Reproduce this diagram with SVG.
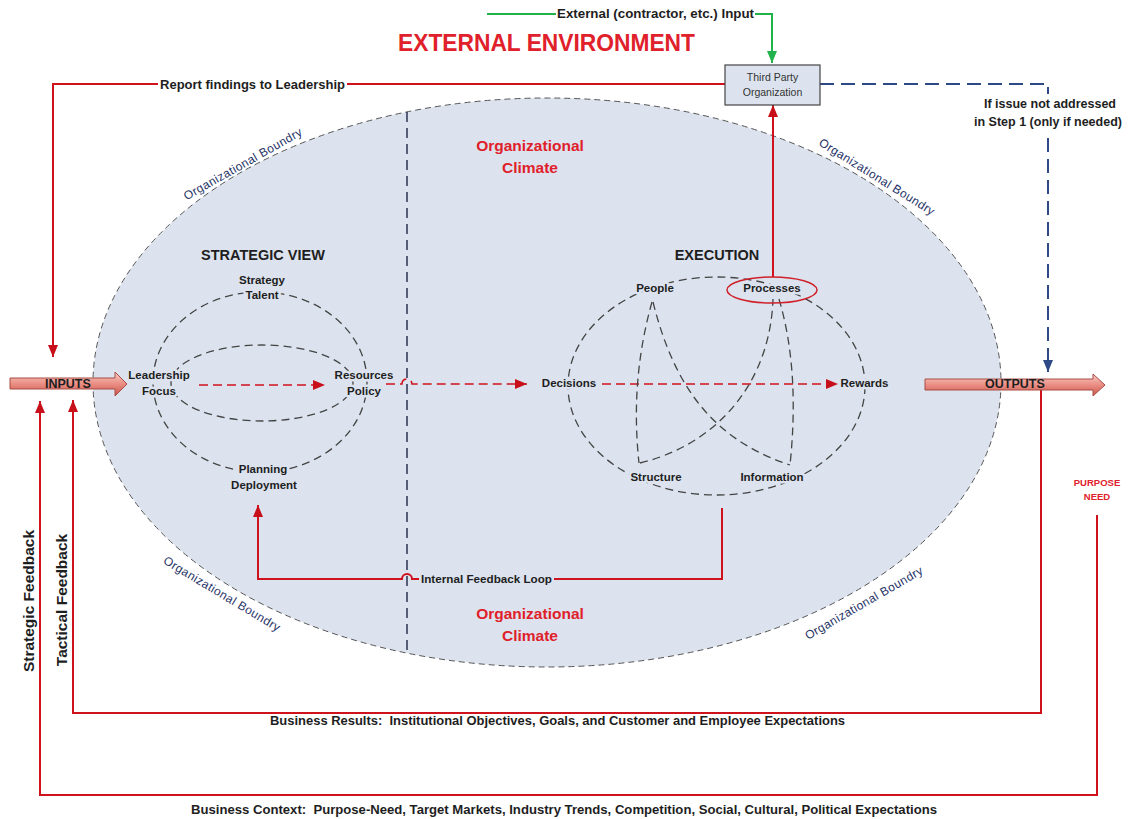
<svg xmlns="http://www.w3.org/2000/svg" width="1129" height="819" viewBox="0 0 1129 819">
<defs>
<style>
text{font-family:"Liberation Sans",Arial,sans-serif;}
.b{font-weight:bold;fill:#1e1e1e;}
.c{text-anchor:middle;dominant-baseline:central;}
.s{dominant-baseline:central;}
.lbl{font-weight:bold;font-size:11.5px;fill:#1e1e1e;text-anchor:middle;dominant-baseline:central;paint-order:stroke;stroke:#dce3ee;stroke-width:5px;stroke-linejoin:round;}
.red{font-weight:bold;fill:#e0202a;}
.bnd{font-size:12px;fill:#1f3366;letter-spacing:0.4px;text-anchor:middle;dominant-baseline:central;}
.gd{fill:none;stroke:#444;stroke-width:1.3;stroke-dasharray:8 5;}
.rl{fill:none;stroke:#d0121c;stroke-width:2;}
.rd{fill:none;stroke:#d0121c;stroke-width:1.6;stroke-dasharray:9 5;}
.bl{fill:none;stroke:#2e4a86;stroke-width:2;stroke-dasharray:14 7;}
.gr{fill:none;stroke:#22b24c;stroke-width:2;}
.fat{fill:url(#fatg);stroke:#a84c44;stroke-width:1;}
</style>
<linearGradient id="fatg" x1="0" y1="0" x2="0" y2="1">
<stop offset="0" stop-color="#f8cdc6"/>
<stop offset="0.5" stop-color="#ea8d83"/>
<stop offset="1" stop-color="#c9564c"/>
</linearGradient>
<marker id="ar" markerWidth="12" markerHeight="10" refX="12" refY="5" orient="auto" markerUnits="userSpaceOnUse"><path d="M0,0 L12,5 L0,10 Z" fill="#c8101a"/></marker>
<marker id="ab" markerWidth="12" markerHeight="10" refX="12" refY="5" orient="auto" markerUnits="userSpaceOnUse"><path d="M0,0 L12,5 L0,10 Z" fill="#2e4a86"/></marker>
<marker id="ag" markerWidth="12" markerHeight="10" refX="12" refY="5" orient="auto" markerUnits="userSpaceOnUse"><path d="M0,0 L12,5 L0,10 Z" fill="#22b24c"/></marker>
</defs>
<rect x="0" y="0" width="1129" height="819" fill="#ffffff"/>

<g id="organization">
<ellipse cx="547" cy="382.5" rx="454" ry="284.5" fill="#dce3ee" stroke="#555" stroke-width="1" stroke-dasharray="6 4"/>
<line x1="407" y1="112" x2="407" y2="653" stroke="#2a3550" stroke-width="1.5" stroke-dasharray="10 6"/>
<text class="bnd" transform="translate(243,164) rotate(-29.5)">Organizational Boundry</text>
<text class="bnd" transform="translate(877,177) rotate(32)">Organizational Boundry</text>
<text class="bnd" transform="translate(222,594) rotate(31)">Organizational Boundry</text>
<text class="bnd" transform="translate(864,603) rotate(-30)">Organizational Boundry</text>
</g>

<g id="climate-top">
<text class="red c" x="530" y="145" font-size="15.5">Organizational</text>
<text class="red c" x="530" y="167" font-size="15.5">Climate</text>
</g>
<g id="climate-bottom">
<text class="red c" x="530" y="613" font-size="15.5">Organizational</text>
<text class="red c" x="530" y="635" font-size="15.5">Climate</text>
</g>

<g id="title">
<text class="red s" x="398" y="43" font-size="23" textLength="297" lengthAdjust="spacingAndGlyphs">EXTERNAL ENVIRONMENT</text>
</g>

<g id="connectors">
<path class="gr" d="M487,14 H556"/>
<path class="gr" d="M755,14 H772 V63" marker-end="url(#ag)"/>
<path class="rl" d="M725,84 H347"/>
<path class="rl" d="M158,84 H53 V357" marker-end="url(#ar)"/>
<path class="rl" d="M773,277 V105" stroke-width="1.5" marker-end="url(#ar)"/>
<path class="bl" d="M820,84 H1048 V94"/>
<path class="bl" d="M1048,138 V372" marker-end="url(#ab)"/>
<path class="rd" d="M199,385 H325" marker-end="url(#ar)"/>
<path class="rd" d="M386,384 H402 A5,5 0 0 1 412,384 H527" marker-end="url(#ar)"/>
<path class="rd" d="M602,384 H838" marker-end="url(#ar)"/>
<path class="rl" d="M722,508 V579 H554"/>
<path class="rl" d="M419,579 H412 A5,5 0 0 0 402,579 H258 V505" marker-end="url(#ar)"/>
<path class="rl" d="M1041,389 V713 H73 V400" marker-end="url(#ar)"/>
<path class="rl" d="M1097,515 V795 H40 V401" marker-end="url(#ar)"/>
</g>

<g id="external-input">
<text class="b s" x="557" y="14" font-size="12" textLength="197" lengthAdjust="spacingAndGlyphs">External (contractor, etc.) Input</text>
</g>

<g id="report-findings">
<text class="b s" x="160" y="84" font-size="13" textLength="185" lengthAdjust="spacingAndGlyphs">Report findings to Leadership</text>
</g>

<g id="third-party">
<rect x="725" y="65" width="95" height="40" fill="#dce3ee" stroke="#444" stroke-width="1.2"/>
<text class="c" x="772.5" y="77" font-size="10.5" fill="#333">Third Party</text>
<text class="c" x="772.5" y="92" font-size="10.5" fill="#333">Organization</text>
</g>

<g id="escalation-label">
<text class="b c" x="1050" y="104" font-size="12.5">If issue not addressed</text>
<text class="b c" x="1048" y="122" font-size="12.5">in Step 1 (only if needed)</text>
</g>

<g id="inputs">
<path class="fat" d="M10,378 H115 V372 L127,384 L115,396 V389 H10 Z"/>
<text class="b s" x="45" y="384" font-size="12.5" fill="#3a2a2a">INPUTS</text>
</g>

<g id="outputs">
<path class="fat" d="M925,379 H1093 V374 L1105,385 L1093,396 V390 H925 Z"/>
<text class="b s" x="985" y="384" font-size="12.5" fill="#3a2a2a">OUTPUTS</text>
</g>

<g id="strategic-view">
<text class="b c" x="263" y="255" font-size="14.5">STRATEGIC VIEW</text>
<ellipse class="gd" cx="260" cy="382" rx="107" ry="90"/>
<ellipse class="gd" cx="262" cy="383" rx="91" ry="38"/>
<text class="lbl" x="262" y="280">Strategy</text>
<text class="lbl" x="262" y="295">Talent</text>
<text class="lbl" x="159" y="375">Leadership</text>
<text class="lbl" x="159" y="391">Focus</text>
<text class="lbl" x="364" y="375">Resources</text>
<text class="lbl" x="364" y="391">Policy</text>
<text class="lbl" x="263" y="469">Planning</text>
<text class="lbl" x="264" y="485">Deployment</text>
</g>

<g id="execution">
<text class="b c" x="717" y="255" font-size="14.5">EXECUTION</text>
<ellipse class="gd" cx="716.5" cy="386" rx="148.5" ry="109"/>
<path class="gd" d="M652,302 Q630,380 639,463"/>
<path class="gd" d="M640,463 C715,445 770,385 773,299"/>
<path class="gd" d="M653,302 C675,390 715,440 790,465"/>
<path class="gd" d="M779,299 Q800,370 790,465"/>
<text class="lbl" x="655" y="288">People</text>
<text class="lbl" x="772" y="288">Processes</text>
<ellipse cx="772" cy="290" rx="45" ry="13" fill="none" stroke="#d0202a" stroke-width="1.5"/>
<text class="lbl" x="569" y="383">Decisions</text>
<text class="lbl" x="864.5" y="383">Rewards</text>
<text class="lbl" x="656" y="477">Structure</text>
<text class="lbl" x="772" y="477">Information</text>
</g>

<g id="internal-feedback">
<text class="b s" x="421" y="579" font-size="11.5" textLength="131" lengthAdjust="spacingAndGlyphs">Internal Feedback Loop</text>
</g>

<g id="purpose-need">
<text class="red c" x="1097" y="482" font-size="9.5">PURPOSE</text>
<text class="red c" x="1097" y="496" font-size="9.5">NEED</text>
</g>

<g id="feedback-labels">
<text class="b c" transform="translate(28.5,601) rotate(-90)" font-size="15.5">Strategic Feedback</text>
<text class="b c" transform="translate(61.5,600) rotate(-90)" font-size="15.5">Tactical Feedback</text>
</g>

<g id="business-results">
<text class="b s" x="270" y="721" font-size="12.5" textLength="575" lengthAdjust="spacingAndGlyphs">Business Results:&#160; Institutional Objectives, Goals, and Customer and Employee Expectations</text>
</g>
<g id="business-context">
<text class="b s" x="191" y="810" font-size="12.5" textLength="746" lengthAdjust="spacingAndGlyphs">Business Context:&#160; Purpose-Need, Target Markets, Industry Trends, Competition, Social, Cultural, Political Expectations</text>
</g>
</svg>
